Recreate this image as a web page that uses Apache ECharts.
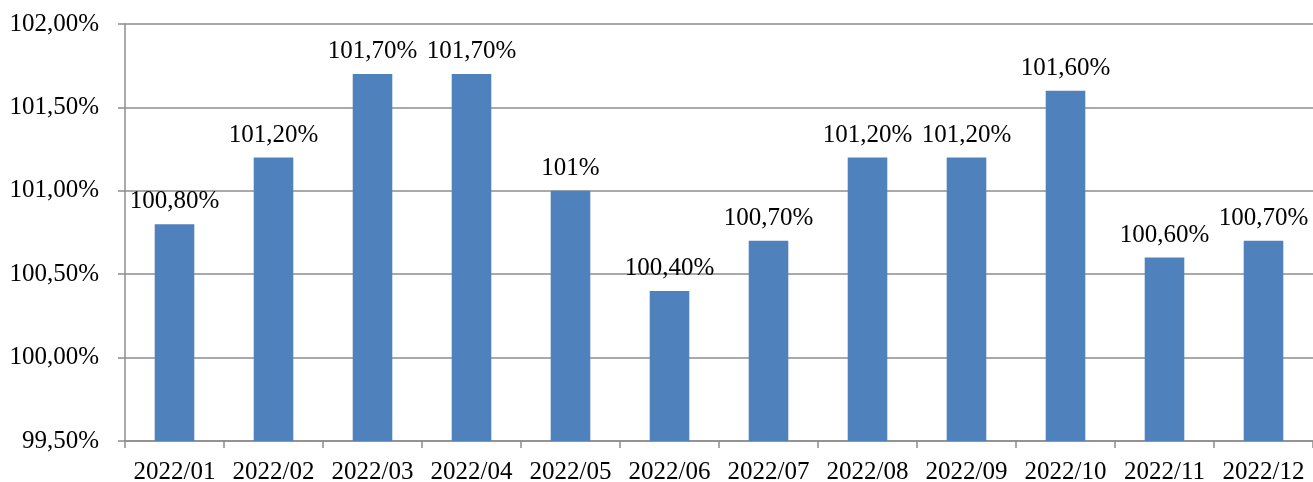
<!DOCTYPE html>
<html>
<head>
<meta charset="utf-8">
<script src="https://cdn.jsdelivr.net/npm/echarts@6/dist/echarts.min.js"></script>
<style>
  html, body { margin: 0; padding: 0; background: #fff; }
  #chart { width: 1313px; height: 482px; }
</style>
</head>
<body>
<div id="chart"></div>
<script>
// data
const months = ['2022/01', '2022/02', '2022/03', '2022/04', '2022/05', '2022/06',
                '2022/07', '2022/08', '2022/09', '2022/10', '2022/11', '2022/12']
const values = [100.8, 101.2, 101.7, 101.7, 101.0, 100.4, 100.7, 101.2, 101.2, 101.6, 100.6, 100.7]

const font = '"Liberation Serif", "Times New Roman", serif'
const gridColor = '#8c8c8c'

// Excel-like formats: 100,80% but 101%
const pct2 = v => v.toFixed(2).replace('.', ',') + '%'
const barLabel = v => Number.isInteger(v) ? v + '%' : pct2(v)

const myChart = echarts.init(document.getElementById('chart'))

const option = {
  animation: false,
  grid: { left: 125, right: 0, top: 24, bottom: 41, outerBoundsMode: 'none' },
  xAxis: {
    type: 'category',
    data: months,
    axisLine: { lineStyle: { color: gridColor, width: 1.5 } },
    axisTick: { show: true, length: 7, lineStyle: { color: gridColor, width: 1.5 } },
    axisLabel: { color: '#000', fontFamily: font, fontSize: 25, margin: 19, interval: 0 }
  },
  yAxis: {
    type: 'value',
    min: 99.5,
    max: 102,
    interval: 0.5,
    axisLine: { show: true, lineStyle: { color: gridColor, width: 1.5 } },
    axisTick: { show: true, length: 7, lineStyle: { color: gridColor, width: 1.5 } },
    splitLine: { lineStyle: { color: gridColor, width: 1.5 } },
    axisLabel: { color: '#000', fontFamily: font, fontSize: 25, margin: 26, formatter: pct2 }
  },
  series: [{
    type: 'bar',
    data: values,
    barWidth: '40%',
    itemStyle: { color: '#4f81bd' },
    label: {
      show: true,
      position: 'top',
      distance: 10,
      color: '#000',
      fontFamily: font,
      fontSize: 25,
      formatter: p => barLabel(p.value)
    }
  }]
}

myChart.setOption(option)
</script>
</body>
</html>
